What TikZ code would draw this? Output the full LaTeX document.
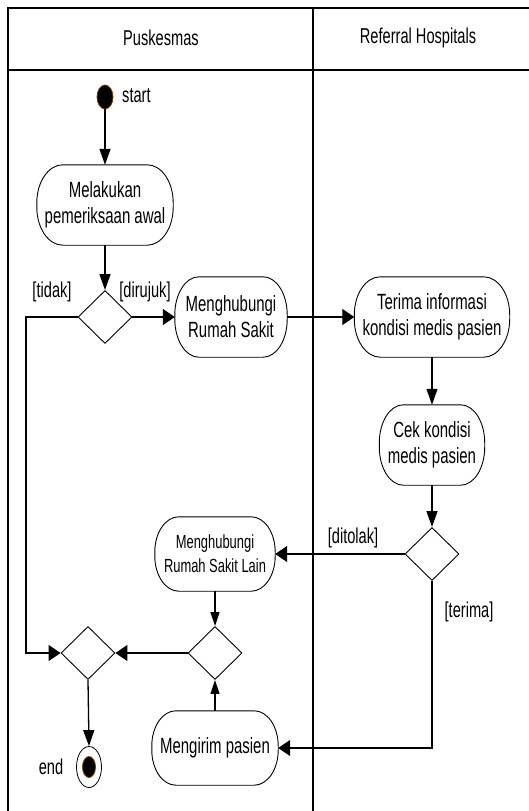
\documentclass[tikz,border=0pt]{standalone}
\usepackage{fontspec}
\setmainfont{Liberation Sans}[FakeStretch=0.68]
\usetikzlibrary{arrows.meta,shapes.geometric,calc}
\tikzset{
  frame/.style={line width=1.6pt,black},
  boxline/.style={line width=0.9pt,black},
  conn/.style={line width=1.3pt,black},
  harr/.style={conn,-{Triangle[length=12pt,width=16pt]}},
  varr/.style={conn,-{Triangle[length=16pt,width=11pt]}},
  sarr/.style={line width=1.1pt,black,-{Triangle[length=14pt,width=9pt]}},
  acttext/.style={draw=none,align=center,inner sep=0pt,font=\fontsize{22}{26}\selectfont},
  dec/.style={diamond,draw,line width=0.9pt,inner sep=0pt,minimum width=54pt,minimum height=53pt},
  lbl/.style={inner sep=0pt,font=\fontsize{21.5}{26}\selectfont},
}
\newcommand\actoutline[3]{%
 \draw[boxline] ([xshift=#2]#1.north west) -- ([xshift=-#2]#1.north east)
   arc[start angle=90,end angle=0,x radius=#2,y radius=#3]
   -- ([yshift=#3]#1.south east)
   arc[start angle=0,end angle=-90,x radius=#2,y radius=#3]
   -- ([xshift=#2]#1.south west)
   arc[start angle=270,end angle=180,x radius=#2,y radius=#3]
   -- ([yshift=-#3]#1.north west)
   arc[start angle=180,end angle=90,x radius=#2,y radius=#3] -- cycle;}
\begin{document}
\begin{tikzpicture}[x=1pt,y=1pt]
\useasboundingbox (0,0) rectangle (529,-811);
% swimlane frame
\draw[frame] (8,-811) -- (8,-8) -- (529,-8);
\draw[frame] (8,-70) -- (529,-70);
\draw[frame] (313,-8) -- (313,-811);
\node[lbl] (lane1) at (161,-38) {Puskesmas};
\node[lbl] (lane2) at (418,-38) {Referral Hospitals};
% start
\node[ellipse,fill=black,draw={rgb,255:red,120;green,60;blue,0},line width=0.8pt,inner sep=0pt,minimum width=16pt,minimum height=24pt] (start) at (105,-97) {};
\node[lbl,anchor=west] (startlbl) at (122,-96) {start};
% activities
\node[acttext,minimum width=136pt,minimum height=80pt] (m1) at (105,-205) {Melakukan\\pemeriksaan awal};
\actoutline{m1}{26pt}{38pt}
\node[dec] (d1) at (105,-317) {};
\node[acttext,minimum width=112pt,minimum height=80pt] (hs) at (231,-317) {Menghubungi\\Rumah Sakit};
\actoutline{hs}{24pt}{38pt}
\node[acttext,minimum width=155pt,minimum height=80pt] (ti) at (432,-317) {Terima informasi\\kondisi medis pasien};
\actoutline{ti}{26pt}{38pt}
\node[acttext,minimum width=105pt,minimum height=80pt] (ck) at (432,-445) {Cek kondisi\\medis pasien};
\actoutline{ck}{24pt}{38pt}
\node[dec] (d2) at (432,-554) {};
\node[acttext,minimum width=120pt,minimum height=74pt,font=\fontsize{19}{24}\selectfont] (lain) at (215,-554) {Menghubungi\\Rumah Sakit Lain};
\actoutline{lain}{24pt}{35pt}
\node[dec] (d3) at (215,-653) {};
\node[dec] (d4) at (88,-653) {};
\node[acttext,minimum width=126pt,minimum height=74pt] (kirim) at (215,-748) {Mengirim pasien};
\actoutline{kirim}{24pt}{35pt}
% end
\node[ellipse,draw,line width=0.8pt,fill=white,inner sep=0pt,minimum width=25pt,minimum height=41pt] (end) at (89,-767) {};
\node[ellipse,fill=black,draw={rgb,255:red,120;green,60;blue,0},line width=0.8pt,inner sep=0pt,minimum width=13pt,minimum height=21pt] (endin) at (end.center) {};
\node[lbl] (endlbl) at (51,-767) {end};
% guard labels
\node[lbl] (gtidak) at (52,-292) {[tidak]};
\node[lbl] (gdirujuk) at (145,-292) {[dirujuk]};
\node[lbl] (gditolak) at (353,-538) {[ditolak]};
\node[lbl] (gterima) at (469,-612) {[terima]};
% connectors
\coordinate (lx) at (26,-317);
\draw[varr] (start.south) -- (m1.north);
\draw[varr] (m1.south) -- (d1.north);
\draw[harr] (d1.east) -- (hs.west);
\draw[harr] (d1.west) -- (lx) |- (d4.west);
\draw[harr] (hs.east) -- (ti.west);
\draw[varr] (ti.south) -- (ck.north);
\draw[varr] (ck.south) -- (d2.north);
\draw[harr] (d2.west) -- (lain.east);
\draw[harr] (d2.south) |- (kirim.east);
\draw[sarr] (lain.south) -- (d3.north);
\draw[sarr] (kirim.north) -- (d3.south);
\draw[harr] (d3.west) -- (d4.east);
\draw[varr] (d4.south) -- (end.north);
\end{tikzpicture}
\end{document}
